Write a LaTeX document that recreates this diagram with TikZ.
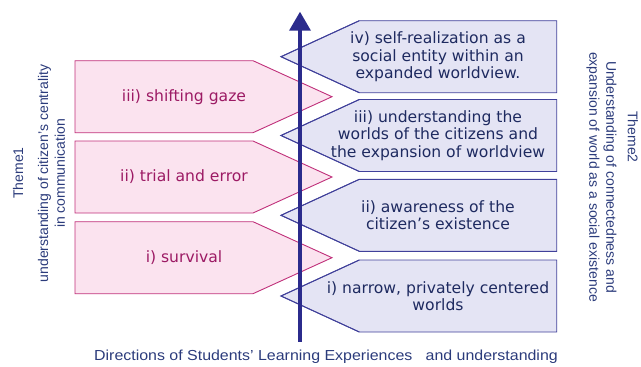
\documentclass[tikz,border=0pt]{standalone}
\usepackage{fontspec}
\setmainfont{DejaVu Sans}
\newfontfamily\arialf{Liberation Sans}
\usetikzlibrary{arrows.meta}
\definecolor{pinkfill}{HTML}{FBE3EF}
\definecolor{pinkline}{HTML}{C0307A}
\definecolor{pinktext}{HTML}{9C1A64}
\definecolor{bluefill}{HTML}{E4E4F4}
\definecolor{blueline}{HTML}{40409A}
\definecolor{bluetext}{HTML}{1E2A60}
\definecolor{axiscol}{HTML}{2B2B8C}
\definecolor{themecol}{HTML}{2B3B7B}
\tikzset{
  pinkbox/.style={fill=pinkfill, draw=pinkline, line width=0.9pt, line join=miter},
  bluebox/.style={fill=bluefill, draw=blueline, line width=0.9pt, line join=miter},
  pinklabel/.style={text=pinktext, font=\fontsize{15.6}{17.2}\selectfont, align=center, inner sep=0pt},
  bluelabel/.style={text=bluetext, font=\fontsize{15.6}{17.2}\selectfont, align=center, inner sep=0pt},
  themelabel/.style={text=themecol, font=\arialf\fontsize{14}{16.8}\selectfont, align=center, inner sep=0pt},
}
\begin{document}
\begin{tikzpicture}[x=1pt,y=-1pt]
\useasboundingbox (0,0) rectangle (641,367);
% blue boxes (right)
\foreach \t in {20.7, 99.5, 179.3, 260}{
  \path[bluebox] (556.7,\t) -- (359.3,\t) -- (281,\t+36) -- (359.3,\t+72) -- (556.7,\t+72) -- cycle;
}
% pink boxes (left)
\foreach \t in {60.7, 141, 221.7}{
  \path[pinkbox] (75,\t) -- (253,\t) -- (332,\t+36) -- (253,\t+72) -- (75,\t+72) -- cycle;
}
% redraw blue outlines over pink
\foreach \t in {20.7, 99.5, 179.3, 260}{
  \draw[blueline, line width=0.9pt] (359.3,\t) -- (281,\t+36) -- (359.3,\t+72);
}
% axis
\coordinate (axbot) at (300,341.7);
\coordinate (axtop) at (300,11.7);
\draw[axiscol, line width=3.6pt, -{Triangle[length=19pt,width=21pt]}] (axbot) -- (axtop);
% pink labels
\node[pinklabel] (p3) at (184,96.7) {iii) shifting gaze};
\node[pinklabel] (p2) at (184,177) {ii) trial and error};
\node[pinklabel] (p1) at (184,257.7) {i) survival};
% blue labels
\node[bluelabel] (q4) at (438,56.7) {iv) self-realization as a\\ social entity within an\\ expanded worldview.};
\node[bluelabel] (q3) at (438,135.5) {iii) understanding the\\ worlds of the citizens and\\ the expansion of worldview};
\node[bluelabel] (q2) at (438,215.3) {ii) awareness of the\\ citizen’s existence};
\node[bluelabel] (q1) at (438,296) {i) narrow, privately centered\\ worlds};
% theme labels
\node[themelabel, rotate=90, anchor=center] (t1a) at (18,173) {Theme1};
\node[themelabel, rotate=90, anchor=center] (t1b) at (51.5,173.5) {understanding of citizen’s centrality\\ in communication};
\node[themelabel, rotate=-90, anchor=center] (t2a) at (633,137) {Theme2};
\node[themelabel, rotate=-90, anchor=center] (t2b) at (601.5,177) {Understanding of connectedness and\\ expansion of world as a social existence};
% bottom
\node[themelabel, font=\arialf\fontsize{14.5}{16}\selectfont, xscale=1.1] (bot) at (326,357) {Directions of Students’ Learning Experiences \ \ and understanding};
\end{tikzpicture}
\end{document}
